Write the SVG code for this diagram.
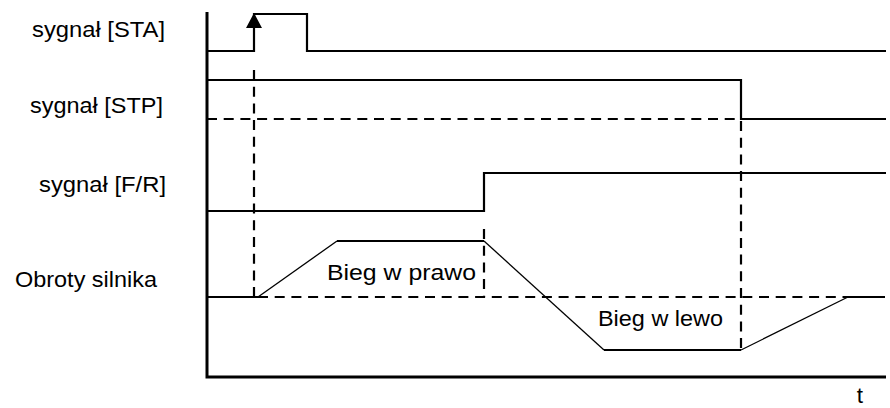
<svg xmlns="http://www.w3.org/2000/svg" width="890" height="408" viewBox="0 0 890 408">
<style>
.t{font-family:"Liberation Sans",Arial,sans-serif;font-size:22.5px;fill:#000}
.s{fill:none;stroke:#000;stroke-width:2.2}
.thin{fill:none;stroke:#000;stroke-width:1.3}
.d{fill:none;stroke:#000;stroke-width:2.2;stroke-dasharray:10 6.7}
.ax{fill:none;stroke:#000;stroke-width:3}
</style>
<g id="labels">
<text class="t" x="32" y="37" textLength="133" lengthAdjust="spacingAndGlyphs">sygnał [STA]</text>
<text class="t" x="30" y="113" textLength="133" lengthAdjust="spacingAndGlyphs">sygnał [STP]</text>
<text class="t" x="39" y="192" textLength="127" lengthAdjust="spacingAndGlyphs">sygnał [F/R]</text>
<text class="t" x="15" y="287" textLength="142" lengthAdjust="spacingAndGlyphs">Obroty silnika</text>
<text class="t" x="327" y="280" textLength="149" lengthAdjust="spacingAndGlyphs">Bieg w prawo</text>
<text class="t" x="598" y="326" textLength="125" lengthAdjust="spacingAndGlyphs">Bieg w lewo</text>
<text class="t" x="860" y="403" text-anchor="middle">t</text>
</g>
<g id="axes">
<path class="ax" d="M207,12 V377 H886"/>
</g>
<g id="signal-sta">
<path class="s" d="M207,51 H254 V14 H307 V51 H886"/>
<polygon points="254,13 246,28 262,28" fill="#000"/>
</g>
<g id="signal-stp">
<path class="s" d="M207,80 H741 V119 H886"/>
</g>
<g id="signal-fr">
<path class="s" d="M207,211 H484 V173 H886"/>
</g>
<g id="motor">
<path class="s" d="M207,297 H258"/>
<path class="thin" d="M258,297 L337,241"/>
<path class="s" d="M337,241 H484"/>
<path class="thin" d="M484,241 L604,350"/>
<path class="s" d="M604,350 H741"/>
<path class="thin" d="M741,350 L848,297"/>
<path class="s" d="M848,297 H885"/>
</g>
<g id="connectors">
<path class="d" d="M207,119 H741"/>
<path class="d" d="M258,297 H848"/>
<path class="d" d="M254,70 V296"/>
<path class="d" d="M741,121 V350"/>
<path class="d" d="M484,229 V297"/>
</g>
</svg>
